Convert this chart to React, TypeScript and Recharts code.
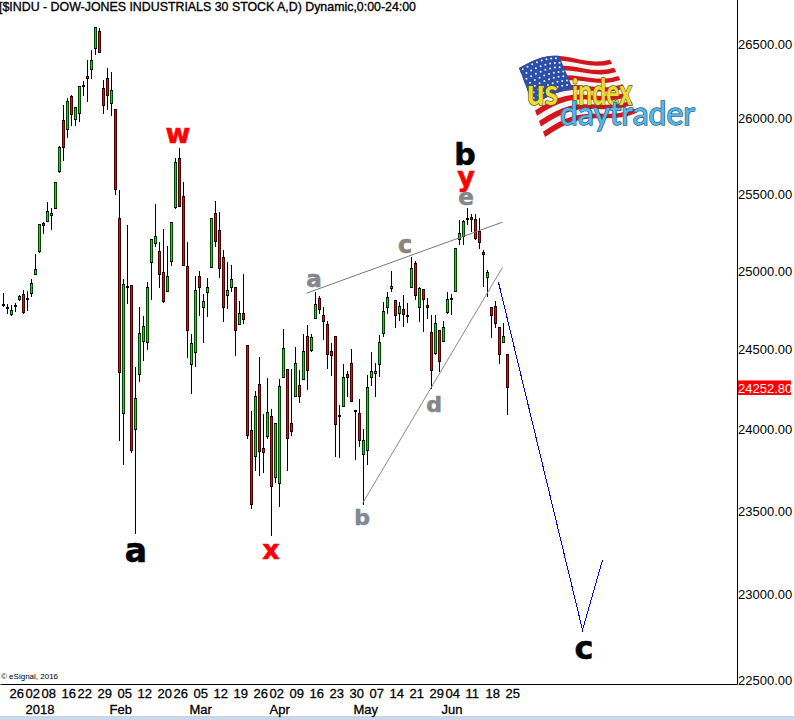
import { Bar, ComposedChart, Line, XAxis, YAxis } from "recharts";

const opens = [
  24782, 24765, 24715, 24769, 24809, 24846, 24820, 24849, 24967, 25120, 25307, 25315, 25354, 25400, 25641, 25984,
  25918, 26146, 25986, 26029, 26221, 26282, 26322, 26468, 26587, 26201, 26268, 26092, 26059, 25337, 24089, 24899,
  24903, 23994, 24337, 24543, 24537, 25048, 25168, 25122, 24986, 24858, 25055, 25404, 25732, 25480, 25027, 24399,
  24474, 24960, 24760, 24856, 25011, 25370, 25259, 25083, 24837, 24884, 24890, 24652, 24724, 24520, 23990, 23828,
  24277, 23879, 23950, 24077, 23699, 23659, 24318, 24370, 24033, 24199, 24270, 24303, 24580, 24484, 24686, 24820,
  24712, 24654, 24483, 24578, 24083, 24131, 24339, 24408, 24116, 24096, 23840, 23865, 24318, 24343, 24399, 24594,
  24760, 24881, 24807, 24722, 24750, 24714, 24888, 25044, 24760, 24878, 24779, 24603, 24468, 24616, 24543, 24728,
  24820, 24858, 25198, 25214, 25337, 25344, 25331, 25253, 25116, 24948, 24763, 24769, 24635, 24533, 24464,
];
const highs = [
  24856, 24784, 24775, 24788, 24841, 24873, 24865, 24943, 25105, 25300, 25315, 25443, 25404, 25573, 25814, 26088,
  26135, 26153, 26072, 26214, 26250, 26392, 26459, 26616, 26609, 26257, 26336, 26311, 26059, 25522, 24941, 25294,
  24903, 24385, 24765, 24707, 24922, 25201, 25430, 25181, 25268, 25155, 25311, 25734, 25798, 25573, 25181, 24592,
  24962, 24994, 24848, 24950, 25337, 25450, 25378, 25131, 25053, 25033, 24890, 24801, 24975, 24520, 24110, 24235,
  24445, 24091, 24316, 24121, 24035, 24308, 24622, 24370, 24370, 24508, 24366, 24590, 24650, 24590, 24860, 24833,
  24766, 24675, 24533, 24578, 24147, 24403, 24360, 24497, 24116, 24183, 23998, 24335, 24476, 24408, 24586, 24795,
  24862, 24994, 24807, 24798, 24839, 24788, 25087, 25061, 24890, 24878, 24820, 24714, 24712, 24616, 24675, 24860,
  24846, 25142, 25326, 25326, 25404, 25365, 25365, 25337, 25131, 25001, 24763, 24803, 24635, 24661, 24464,
];
const lows = [
  24766, 24720, 24709, 24733, 24801, 24720, 24741, 24830, 24967, 25113, 25235, 25309, 25261, 25400, 25635, 25710,
  25869, 25946, 25946, 25975, 26148, 26108, 26263, 26428, 26441, 26027, 26054, 26015, 25489, 23924, 23779, 24784,
  23852, 23357, 24293, 24422, 24491, 24809, 25152, 24886, 24792, 24858, 25027, 25398, 25413, 25027, 24441, 24216,
  24386, 24709, 24537, 24703, 25011, 25152, 24950, 24671, 24752, 24862, 24453, 24652, 24658, 23936, 23507, 23742,
  23711, 23730, 23934, 23346, 23665, 23521, 24318, 23742, 23955, 24199, 24158, 24303, 24241, 24480, 24686, 24720,
  24554, 24372, 24328, 23828, 23822, 24131, 24199, 24168, 23808, 23886, 23532, 23777, 24262, 24199, 24324, 24573,
  24720, 24860, 24631, 24675, 24637, 24661, 24888, 24809, 24669, 24605, 24686, 24247, 24461, 24353, 24543, 24720,
  24714, 24858, 25163, 25163, 25294, 25250, 25196, 25139, 24890, 24830, 24569, 24633, 24405, 24533, 24087,
];
const closes = [
  24775, 24754, 24744, 24777, 24833, 24724, 24814, 24920, 25009, 25298, 25289, 25383, 25370, 25573, 25807, 25798,
  26113, 26022, 26072, 26214, 26211, 26259, 26390, 26616, 26441, 26083, 26150, 26187, 25524, 24349, 24909, 24888,
  23865, 24189, 24597, 24641, 24890, 25201, 25220, 24967, 24795, 24960, 25311, 25706, 25413, 25027, 24613, 24533,
  24871, 24888, 24801, 24890, 25337, 25181, 25009, 24760, 24871, 24941, 24613, 24724, 24684, 23956, 23534, 24202,
  23858, 23852, 24102, 23644, 24035, 24264, 24501, 23934, 23981, 24408, 24195, 24483, 24361, 24573, 24782, 24745,
  24667, 24461, 24451, 24024, 24073, 24320, 24312, 24168, 24102, 23926, 23928, 24258, 24358, 24358, 24539, 24737,
  24826, 24897, 24709, 24769, 24715, 24709, 25011, 24835, 24884, 24811, 24756, 24361, 24664, 24418, 24635, 24814,
  24807, 25142, 25240, 25318, 25328, 25324, 25204, 25178, 25096, 24986, 24705, 24658, 24461, 24578, 24252.8,
];

// 184 slots on the time axis, candles only fill the first 127
const slotCount = 184;

const weekSlots = [2, 6, 10, 15, 19, 24, 29, 34, 39, 43, 48, 53, 58, 63, 67, 72, 77, 82, 87, 92, 97, 102, 107, 111, 116, 121, 126];
const weekLabels = ["26", "02", "08", "16", "22", "29", "05", "12", "20", "26", "05", "12", "19", "26", "02", "09", "16", "23", "30", "07", "14", "21", "29", "04", "11", "18", "25"];
const monthSlots = [6, 27, 47, 67, 88, 110];
const monthLabels = ["2018", "Feb", "Mar", "Apr", "May", "Jun"];

const priceTicks = [22500, 23000, 23500, 24000, 24500, 25000, 25500, 26000, 26500, 24252.8];
const lastPrice = 24252.8;

// hand drawn lines on the chart
const projectionSlots = [124, 145, 150];
const projectionValues = [24922, 22787, 23202];
const upperTrendSlots = [76, 125];
const upperTrendValues = [24852, 25311];
const lowerTrendSlots = [90, 125];
const lowerTrendValues = [23542, 25018];

const pick = (slots: number[], values: number[], slot: number) => {
  const at = slots.indexOf(slot);
  return at < 0 ? null : values[at];
};

const chartData = Array.from({ length: slotCount }, (_, slot) => ({
  slot,
  open: opens[slot],
  close: closes[slot],
  high: highs[slot],
  low: lows[slot],
  range: slot < opens.length ? [lows[slot], highs[slot]] : null,
  projection: pick(projectionSlots, projectionValues, slot),
  upperTrend: pick(upperTrendSlots, upperTrendValues, slot),
  lowerTrend: pick(lowerTrendSlots, lowerTrendValues, slot),
}));

const FONT = "'Liberation Sans', Arial, sans-serif";

// the bar spans low to high, open and close are placed inside it on the same log scale
const CandleShape = (props: any) => {
  const { x, y, width, height, payload } = props;
  if (!height || payload.open == null) return null;
  const yOf = (price: number) => y + (height * Math.log(payload.high / price)) / Math.log(payload.high / payload.low);
  const left = Math.round(x + width / 2 - 1.5);
  const wickTop = Math.round(y);
  const wickEnd = Math.round(y + height);
  const top = Math.round(yOf(Math.max(payload.open, payload.close)));
  const rows = Math.max(Math.round(yOf(Math.min(payload.open, payload.close))) - top, 2);
  const bottom = top + rows;
  const colour = payload.open > payload.close ? "#ff0000" : "#00e600";
  return (
    <g>
      {top > wickTop && <rect x={left + 1} y={wickTop} width={1} height={top - wickTop} fill="#000" />}
      {wickEnd > bottom && <rect x={left + 1} y={bottom} width={1} height={wickEnd - bottom} fill="#000" />}
      <rect x={left} y={top} width={3} height={rows} fill={colour} />
      <rect x={left} y={top} width={1} height={rows} fill="#000" fillOpacity={0.7} />
      <rect x={left + 2} y={top} width={1} height={rows} fill="#000" fillOpacity={0.7} />
      <rect x={left} y={top} width={3} height={1} fill="#000" />
      <rect x={left} y={bottom - 1} width={3} height={1} fill="#000" />
    </g>
  );
};

const WeekTick = (props: any) => (
  <text x={props.x - 1} y={698} fontFamily={FONT} fontSize={13} fill="#000" stroke="#000" strokeWidth={0.3}>
    {weekLabels[weekSlots.indexOf(props.payload.value)]}
  </text>
);

const MonthTick = (props: any) => (
  <text x={props.x - 1} y={714} fontFamily={FONT} fontSize={13} fill="#000" stroke="#000" strokeWidth={0.3}>
    {monthLabels[monthSlots.indexOf(props.payload.value)]}
  </text>
);

const PriceTick = (props: any) => {
  const { y, payload } = props;
  const isLast = payload.value === lastPrice;
  return (
    <g>
      {isLast && <rect x={738} y={y - 7.5} width={53} height={14.5} fill="#ff0000" />}
      <text x={738} y={y + 5.5} fontFamily={FONT} fontSize={13} fill={isLast ? "#fff" : "#000"}>
        {payload.value.toFixed(2)}
      </text>
    </g>
  );
};

const waveLabels = [
  { text: "a", x: 136, y: 562, size: 33, color: "#000" },
  { text: "w", x: 178, y: 143, size: 27, color: "#ff0000" },
  { text: "x", x: 271, y: 559, size: 27, color: "#ff0000" },
  { text: "b", x: 465, y: 165, size: 30, color: "#000" },
  { text: "y", x: 466, y: 186, size: 27, color: "#ff0000" },
  { text: "e", x: 466, y: 205, size: 23, color: "#85858c" },
  { text: "a", x: 314, y: 287, size: 23, color: "#85858c" },
  { text: "c", x: 405, y: 253, size: 24, color: "#8c8478" },
  { text: "d", x: 434, y: 412, size: 22, color: "#85858c" },
  { text: "b", x: 362, y: 525, size: 22, color: "#7f8894" },
  { text: "c", x: 584, y: 659, size: 32, color: "#000" },
];

// waving flag of the logo, corners
const flagPoint = (u: number, v: number) => {
  const topX = 519 + 91 * u;
  const topY = 68 - 15 * u - 7 * Math.sin(u * Math.PI * 1.6);
  const botX = 545 + 92 * u;
  const botY = 137 - 30 * u - 6 * Math.sin(u * Math.PI * 1.6);
  return [topX + (botX - topX) * v, topY + (botY - topY) * v];
};

const flagBand = (u0: number, u1: number, v0: number, v1: number) => {
  const pts: string[] = [];
  for (let k = 0; k <= 12; k++) pts.push(flagPoint(u0 + ((u1 - u0) * k) / 12, v0).join(","));
  for (let k = 12; k >= 0; k--) pts.push(flagPoint(u0 + ((u1 - u0) * k) / 12, v1).join(","));
  return pts.join(" ");
};

const Logo = () => {
  const stars = [];
  for (let r = 0; r < 7; r++) {
    for (let c = 0; c < 8; c++) {
      const [sx, sy] = flagPoint(0.03 + c * 0.052 + (r % 2) * 0.02, 0.04 + r * 0.07);
      stars.push(<circle key={r + "-" + c} cx={sx} cy={sy} r={1} fill="#e8eefa" />);
    }
  }
  return (
    <g>
      <polygon points={flagBand(0, 1, 0, 1)} fill="#f4f4f4" />
      {Array.from({ length: 7 }, (_, s) => (
        <polygon key={s} points={flagBand(0, 1, (s * 2) / 13, (s * 2 + 1) / 13)} fill="#d3161c" />
      ))}
      <polygon points={flagBand(0, 0.44, 0, 0.54)} fill="#2b4fa8" />
      {stars}
      <g fontFamily="Lato, 'Open Sans', sans-serif" style={{ paintOrder: "stroke" }}>
        <text x={527} y={105} fontSize={36} fontWeight={700} textLength={31} lengthAdjust="spacingAndGlyphs" fill="#e9dc36" stroke="#5f5a10" strokeWidth={1.5}>us</text>
        <text x={572} y={105} fontSize={36} fontWeight={700} textLength={60} lengthAdjust="spacingAndGlyphs" fill="#e9dc36" stroke="#5f5a10" strokeWidth={1.5}>index</text>
        <text x={560} y={125} fontSize={32} fontWeight={400} textLength={135} lengthAdjust="spacingAndGlyphs" fill="#5bb6e6" stroke="#1b6a96" strokeWidth={1.5}>daytrader</text>
      </g>
    </g>
  );
};

export default function App() {
  return (
    <div style={{ position: "absolute", left: 0, top: 0, width: 795, height: 720, background: "#fff", overflow: "hidden" }}>
      <ComposedChart
        width={795}
        height={720}
        data={chartData}
        margin={{ top: 0, right: 0, bottom: 0, left: 0.5 }}
        barSize={3}
      >
        <XAxis
          dataKey="slot"
          ticks={weekSlots}
          interval={0}
          height={15.5}
          padding={{ left: 0, right: 1 }}
          tick={<WeekTick />}
          tickLine={false}
          axisLine={{ stroke: "#000", strokeWidth: 1 }}
        />
        <XAxis
          xAxisId="months"
          dataKey="slot"
          ticks={monthSlots}
          interval={0}
          height={20}
          padding={{ left: 0, right: 1 }}
          tick={<MonthTick />}
          tickLine={false}
          axisLine={false}
        />
        <YAxis
          orientation="right"
          scale="log"
          domain={[22469, 26802]}
          allowDataOverflow
          ticks={priceTicks}
          interval={0}
          width={57.5}
          tick={<PriceTick />}
          tickLine={false}
          axisLine={{ stroke: "#000", strokeWidth: 1 }}
        />
        <Bar dataKey="range" shape={<CandleShape />} isAnimationActive={false} />
        <Line dataKey="upperTrend" connectNulls dot={false} stroke="#777" strokeWidth={1} isAnimationActive={false} />
        <Line dataKey="lowerTrend" connectNulls dot={false} stroke="#8a8a8a" strokeWidth={1} isAnimationActive={false} />
        <Line dataKey="projection" connectNulls dot={false} stroke="#0000e6" strokeWidth={1} shapeRendering="crispEdges" isAnimationActive={false} />

        <text x={-1} y={11} fontFamily={FONT} fontSize={13} textLength={417} lengthAdjust="spacingAndGlyphs" fill="#000" stroke="#000" strokeWidth={0.35}>
          [$INDU - DOW-JONES INDUSTRIALS 30 STOCK A,D) Dynamic,0:00-24:00
        </text>
        <text x={1} y={679} fontFamily={FONT} fontSize={8} fill="#000">© eSignal, 2016</text>
        {waveLabels.map((l, i) => (
          <text key={i} x={l.x} y={l.y} textAnchor="middle" fontFamily="'DejaVu Sans', sans-serif" fontWeight={700} fontSize={l.size} fill={l.color} stroke={l.color} strokeWidth={0.6}>
            {l.text}
          </text>
        ))}
        <Logo />
        <rect x={0} y={716} width={795} height={4} fill="#c6d9f0" />
        <rect x={0} y={716} width={795} height={1} fill="#d0d0d0" />
        <rect x={794} y={0} width={1} height={716} fill="#dddddd" />
      </ComposedChart>
    </div>
  );
}
